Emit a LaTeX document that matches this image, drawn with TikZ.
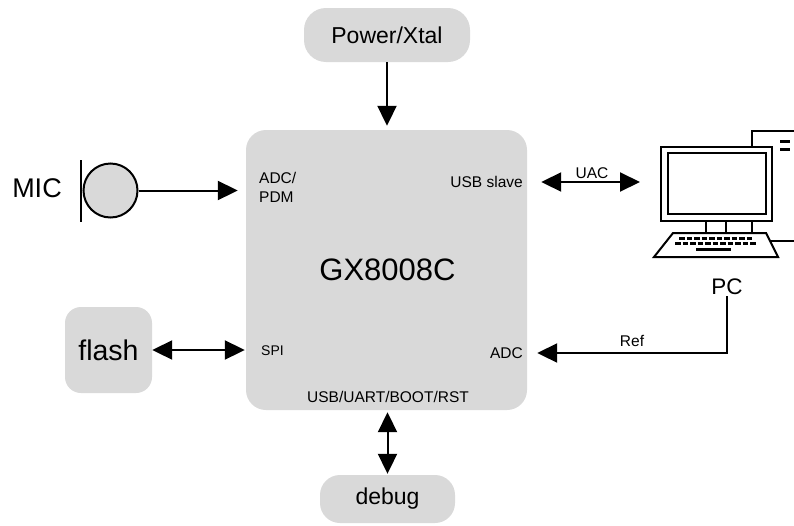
\documentclass[tikz,border=0pt]{standalone}
\usepackage{fontspec}
\setmainfont{Liberation Sans}
\usetikzlibrary{arrows.meta}
\definecolor{boxgray}{RGB}{217,217,217}
\begin{document}
\begin{tikzpicture}[x=1pt,y=-1pt,
  blk/.style={fill=boxgray, draw=none, inner sep=0pt},
  lbl/.style={inner sep=0pt, font=\fontsize{15.5}{18}\selectfont},
  conn/.style={line width=2pt},
  arr/.style={conn, -{Triangle[length=20pt,width=19pt]}},
  darr/.style={conn, {Triangle[length=20pt,width=19pt]}-{Triangle[length=20pt,width=19pt]}},
  icon/.style={line width=2pt, line join=miter}
]
\useasboundingbox[fill=white] (0,0) rectangle (794,525);
% blocks
\node[blk, minimum width=281pt, minimum height=280pt, rounded corners=20pt] (main) at (386.5,270) {};
\node[blk, minimum width=166pt, minimum height=54pt, rounded corners=22pt, font=\fontsize{23}{26}\selectfont] (power) at (387,35) {Power/Xtal};
\node[blk, minimum width=87pt, minimum height=86pt, rounded corners=16pt, font=\fontsize{28.5}{32}\selectfont] (flash) at (108.5,350) {flash};
\node[blk, minimum width=135pt, minimum height=48pt, rounded corners=20pt, font=\fontsize{23}{26}\selectfont] (debug) at (387.5,499) {debug};
% labels
\node[lbl, font=\fontsize{31}{34}\selectfont] (chip) at (387.5,270) {GX8008C};
\node[lbl, align=left, anchor=west, font=\fontsize{15.5}{19}\selectfont] (adcpdm) at (259,187) {ADC/\\PDM};
\node[lbl, anchor=east] (usbs) at (523,182) {USB slave};
\node[lbl, anchor=east] (adc) at (523,353) {ADC};
\node[lbl, anchor=west, font=\fontsize{14}{16}\selectfont] (spi) at (261,351) {SPI};
\node[lbl] (dbgport) at (388,397) {USB/UART/BOOT/RST};
\node[lbl] (uac) at (592,173) {UAC};
\node[lbl] (ref) at (632,341) {Ref};
\node[lbl, font=\fontsize{27}{30}\selectfont] (miclbl) at (37,188) {MIC};
\node[lbl, font=\fontsize{22.5}{26}\selectfont, inner sep=1pt] (pc) at (727,287) {PC};
% microphone
\node[circle, fill=boxgray, draw, line width=2pt, minimum size=54pt, inner sep=0pt] (mic) at (110.5,190.5) {};
\draw[line width=2.5pt] (81,160) -- (81,222);
% PC icon
\draw[icon] (752,147) -- (752,131) -- (794,131);
\draw[line width=3pt] (780,141) -- (790,141);
\draw[line width=3pt] (780,149) -- (790,149);
\node[draw, line width=2pt, minimum width=111pt, minimum height=74pt, inner sep=0pt, fill=white] (monitor) at (716.5,184) {};
\draw[icon] (668,153) rectangle (766,214);
\draw[icon] (706,221) -- (706,233);
\draw[icon] (726,221) -- (726,233);
\draw[icon] (752,221) -- (752,233);
\draw[icon] (770,241) -- (794,241);
\draw[icon, fill=white] (673,233) -- (766,233) -- (778,257) -- (654,257) -- cycle;
\draw[line width=3.5pt, dash pattern=on 5.5pt off 2pt] (679,238.3) -- (752,238.3);
\draw[line width=3.5pt, dash pattern=on 5.5pt off 2pt] (675,243.7) -- (757,243.7);
\draw[line width=3.2pt] (696,249.7) -- (731,249.7);
% connectors
\draw[arr, shorten >=4pt] (power.south) -- (power.south |- main.north);
\draw[arr, shorten >=8pt] (mic.east) -- (mic.east -| main.west);
\draw[darr, shorten >=1pt] (flash.east) -- (flash.east -| main.west);
\draw[darr, shorten <=14pt, shorten >=20pt] (usbs.east -| main.east) -- (usbs.east -| monitor.west);
\draw[arr, shorten >=10pt] (pc.south) |- (adc.east -| main.east);
\draw[darr, shorten <=2pt, shorten >=1pt] (main.south -| debug.north) -- (debug.north);
\end{tikzpicture}
\end{document}
